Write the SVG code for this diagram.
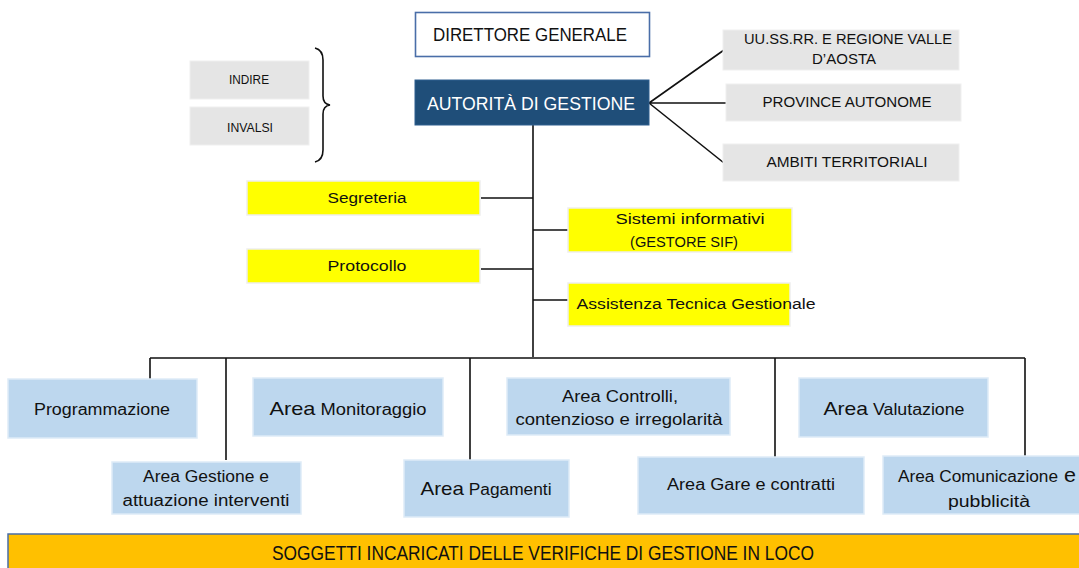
<svg xmlns="http://www.w3.org/2000/svg" width="1079" height="568" viewBox="0 0 1079 568">
<style>
text{font-family:"Liberation Sans",Arial,sans-serif;fill:#111;text-anchor:middle}
.gray{fill:#e5e5e5;stroke:#efefef;stroke-width:1}
.yel{fill:#ffff00;stroke:#eeeeee;stroke-width:1.5}
.blue{fill:#bdd7ee;stroke:#deebf7;stroke-width:1.5}
.ln{stroke:#111;stroke-width:1.6;fill:none}
.s13{font-size:13px}
.s14{font-size:14px}
.s16{font-size:16px}
.s19{font-size:19px}
</style>
<rect width="1079" height="568" fill="#fff"/>
<g id="connectors">
<path class="ln" d="M533 125V357"/>
<path class="ln" d="M649 103L724 50M649 103H726M649 103L724 163"/>
<path class="ln" d="M481 198H533M481 269H533M533 230H568M533 300H568"/>
<path class="ln" d="M150 358H1025M150 358V380M226 358V460M470 358V460M775 358V457M1025 358V457"/>
<path class="ln" d="M315 48Q323 50 323 60V96Q323 104 330 105Q323 106 323 114V150Q323 160 315 162" stroke-width="1.3"/>
</g>
<g id="direttore">
<rect x="415.5" y="12.5" width="234" height="44" fill="#fff" stroke="#4a6ea8" stroke-width="1.6"/>
<text x="530" y="41" font-size="18" textLength="194" lengthAdjust="spacingAndGlyphs">DIRETTORE GENERALE</text>
</g>
<g id="autorita">
<rect x="415" y="80" width="234" height="45" fill="#1f4e79" stroke="#2e5f8f" stroke-width="1"/>
<text x="531" y="110" font-size="19" style="fill:#fff" textLength="208" lengthAdjust="spacingAndGlyphs">AUTORITÀ DI GESTIONE</text>
</g>
<g id="indire">
<rect class="gray" x="190" y="61" width="119" height="38"/>
<text x="249" y="84" font-size="12" textLength="40" lengthAdjust="spacingAndGlyphs">INDIRE</text>
</g>
<g id="invalsi">
<rect class="gray" x="190" y="107" width="119" height="38"/>
<text x="250" y="132" font-size="12" textLength="46" lengthAdjust="spacingAndGlyphs">INVALSI</text>
</g>
<g id="uussrr">
<rect class="gray" x="723" y="30" width="236" height="40"/>
<text x="848" y="44" class="s14" textLength="208" lengthAdjust="spacingAndGlyphs">UU.SS.RR. E REGIONE VALLE</text>
<text x="844" y="64" class="s14" textLength="64" lengthAdjust="spacingAndGlyphs">D’AOSTA</text>
</g>
<g id="province">
<rect class="gray" x="726" y="84" width="235" height="37"/>
<text x="847" y="107" class="s14" textLength="169" lengthAdjust="spacingAndGlyphs">PROVINCE AUTONOME</text>
</g>
<g id="ambiti">
<rect class="gray" x="723" y="144" width="236" height="37"/>
<text x="847" y="167" class="s14" textLength="161" lengthAdjust="spacingAndGlyphs">AMBITI TERRITORIALI</text>
</g>
<g id="segreteria">
<rect class="yel" x="247" y="181" width="233" height="34"/>
<text x="367" y="203" class="s14" textLength="79" lengthAdjust="spacingAndGlyphs">Segreteria</text>
</g>
<g id="protocollo">
<rect class="yel" x="247" y="249" width="233" height="34"/>
<text x="367" y="271" class="s14" textLength="79" lengthAdjust="spacingAndGlyphs">Protocollo</text>
</g>
<g id="sistemi">
<rect class="yel" x="568" y="208" width="224" height="44"/>
<text x="690" y="224" class="s14" textLength="149" lengthAdjust="spacingAndGlyphs">Sistemi informativi</text>
<text x="684" y="247" font-size="15" textLength="108" lengthAdjust="spacingAndGlyphs">(GESTORE SIF)</text>
</g>
<g id="assistenza">
<rect class="yel" x="568" y="283" width="222" height="43"/>
<text x="696" y="309" class="s14" textLength="239" lengthAdjust="spacingAndGlyphs">Assistenza Tecnica Gestionale</text>
</g>
<g id="programmazione">
<rect class="blue" x="8" y="379" width="189" height="59"/>
<text x="102" y="415" class="s16" textLength="136" lengthAdjust="spacingAndGlyphs">Programmazione</text>
</g>
<g id="gestione">
<rect class="blue" x="112" y="462" width="189" height="52"/>
<text x="206" y="482" class="s16" textLength="126" lengthAdjust="spacingAndGlyphs">Area Gestione e</text>
<text x="206" y="506" class="s16" textLength="167" lengthAdjust="spacingAndGlyphs">attuazione interventi</text>
</g>
<g id="monitoraggio">
<rect class="blue" x="253" y="378" width="190" height="58"/>
<text x="348" y="415" textLength="157" lengthAdjust="spacingAndGlyphs"><tspan class="s19">Area</tspan><tspan class="s16"> Monitoraggio</tspan></text>
</g>
<g id="pagamenti">
<rect class="blue" x="404" y="460" width="165" height="57"/>
<text x="486" y="495" textLength="131" lengthAdjust="spacingAndGlyphs"><tspan class="s19">Area</tspan><tspan class="s16"> Pagamenti</tspan></text>
</g>
<g id="controlli">
<rect class="blue" x="507" y="378" width="223" height="57"/>
<text x="620" y="402" class="s16" textLength="116" lengthAdjust="spacingAndGlyphs">Area Controlli,</text>
<text x="619" y="425" class="s16" textLength="207" lengthAdjust="spacingAndGlyphs">contenzioso e irregolarità</text>
</g>
<g id="valutazione">
<rect class="blue" x="799" y="378" width="189" height="59"/>
<text x="894" y="415" textLength="141" lengthAdjust="spacingAndGlyphs"><tspan class="s19">Area</tspan><tspan class="s16"> Valutazione</tspan></text>
</g>
<g id="gare">
<rect class="blue" x="638" y="457" width="226" height="57"/>
<text x="751" y="490" class="s16" textLength="168" lengthAdjust="spacingAndGlyphs">Area Gare e contratti</text>
</g>
<g id="comunicazione">
<rect class="blue" x="883" y="456" width="198" height="58"/>
<text x="987" y="482" textLength="178" lengthAdjust="spacingAndGlyphs"><tspan class="s16">Area Comunicazione</tspan><tspan font-size="20"> e</tspan></text>
<text x="989" y="507" class="s16" textLength="82" lengthAdjust="spacingAndGlyphs">pubblicità</text>
</g>
<g id="soggetti">
<rect x="8" y="534" width="1075" height="40" fill="#ffc000" stroke="#4a6ea8" stroke-width="1.5"/>
<text x="543" y="560" font-size="20" textLength="542" lengthAdjust="spacingAndGlyphs">SOGGETTI INCARICATI DELLE VERIFICHE DI GESTIONE IN LOCO</text>
</g>
</svg>
